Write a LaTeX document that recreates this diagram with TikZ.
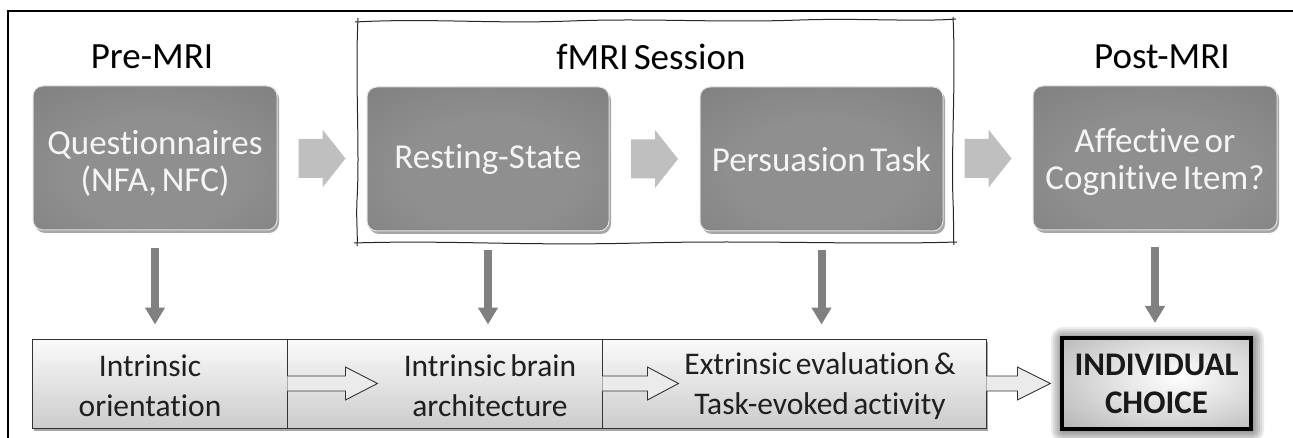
\documentclass[tikz,border=0pt]{standalone}
\usepackage{fontspec}
\setmainfont{Carlito}[Ligatures=NoCommon, WordSpace=0.6]
\usetikzlibrary{arrows.meta,calc,shadows}
\definecolor{dcen}{HTML}{8F8F8F}
\definecolor{dmid}{HTML}{7C7C7C}
\definecolor{dedge}{HTML}{5C5C5C}
\definecolor{icmid}{HTML}{D8D8D8}
\definecolor{icedge}{HTML}{8A8A8A}
\pgfdeclareradialshading{darkbox}{\pgfpoint{0bp}{-6bp}}{color(0bp)=(dcen); color(18bp)=(dcen); color(45bp)=(dmid); color(72bp)=(dedge); color(100bp)=(dedge)}
\pgfdeclareradialshading{icshade}{\pgfpoint{6bp}{4bp}}{color(0bp)=(white); color(22bp)=(icmid); color(60bp)=(icedge); color(100bp)=(icedge)}
\pgfdeclarelayer{bg}
\pgfsetlayers{bg,main}
\tikzset{
  topbox/.style={rounded corners=10pt, shading=darkbox, draw=black!12, line width=1pt, inner sep=0pt,
    drop shadow={shadow xshift=2pt, shadow yshift=-3pt, fill=black, opacity=0.35}},
  toptext/.style={text=white!96!black, font=\fontsize{35}{37}\selectfont, align=center, inner sep=0pt},
  lowbox/.style={draw=black!80, line width=0.9pt, top color=black!2, bottom color=black!20, inner sep=0pt,
    drop shadow={shadow xshift=2pt, shadow yshift=-3pt, fill=black, opacity=0.35}},
  lowtext/.style={text=black!88, font=\fontsize{31.5}{40}\selectfont, align=center, inner sep=0pt},
  titletext/.style={text=black, font=\fontsize{37}{40}\selectfont, inner sep=0pt},
  varrow/.style={draw=black!50, line width=8pt, -{Triangle[width=19pt,length=17pt]}},
  oarrow/.style={draw=black!80, line width=0.9pt, fill=black!8},
  blk/.pic={\fill[black!25] (-23.5,-19.5) -- (0.5,-19.5) -- (0.5,-29) -- (23.5,0) -- (0.5,29) -- (0.5,19.5) -- (-23.5,19.5) -- cycle;},
  icbox/.style={draw=black, line width=4pt, shading=icshade, outer sep=0pt, inner sep=0pt,
    text=black!90, font=\bfseries\fontsize{33}{38}\selectfont, align=center},
  sketch/.style={draw=black!85, line width=1pt}
}
\begin{document}
\begin{tikzpicture}[x=1pt,y=-1pt]
\useasboundingbox (0,0) rectangle (1293,438);
% outer frame
\draw[line width=1.4pt] (1295,11) -- (8,11) -- (8,440);
% fMRI session sketchy frame
\fill[white] (358,21) rectangle (954,243);
\draw[sketch] (355,22) .. controls (430,18) and (490,24) .. (570,21) .. controls (650,18) and (720,23) .. (800,20) .. controls (860,18) and (920,22) .. (956,19);
\draw[sketch] (358,18) .. controls (355,80) and (360,150) .. (357,200) .. controls (356,222) and (358,236) .. (357,246);
\draw[sketch] (953,17) .. controls (956,80) and (951,150) .. (953,200) .. controls (954,222) and (953,236) .. (954,245);
\draw[sketch] (354,243) .. controls (450,240) and (520,246) .. (640,243) .. controls (760,240) and (860,245) .. (957,242);
% titles
\node[titletext] (pre) at (152,57) {Pre-MRI};
\node[titletext] (fmri) at (651,57) {fMRI Session};
\node[titletext] (post) at (1162,57) {Post-MRI};
% top boxes
\node[topbox, minimum width=244pt, minimum height=144pt] (q) at (155,158) {};
\node[topbox, minimum width=242pt, minimum height=144pt] (rs) at (488,159) {};
\node[topbox, minimum width=243pt, minimum height=144pt] (pt) at (821.5,159) {};
\node[topbox, minimum width=244pt, minimum height=144pt] (aff) at (1155,158) {};
\node[toptext] (qt) at ($(q.center)+(0,5)$) {Questionnaires\\(NFA, NFC)};
\node[toptext] (rst) at ($(rs.center)+(0,0)$) {Resting-State};
\node[toptext] (ptt) at ($(pt.center)+(0,0)$) {Persuasion Task};
\node[toptext] (afft) at ($(aff.center)+(0,4)$) {Affective or\\Cognitive Item?};
% block arrows between top boxes
\pic at ($(q.east)!0.5!(rs.west)$) {blk};
\pic at ($(rs.east)!0.5!(pt.west)$) {blk};
\pic at ($(pt.east)!0.5!(aff.west)$) {blk};
% bottom boxes
\node[lowbox, minimum width=255pt, minimum height=89pt] (b1) at (159.5,383.5) {};
\node[lowbox, minimum width=315pt, minimum height=89pt] (b2) at (444.5,383.5) {};
\node[lowbox, minimum width=384pt, minimum height=89pt] (b3) at (794,383.5) {};
\node[icbox, minimum width=189pt, minimum height=91pt] (ic) at (1156.5,383.5) {INDIVIDUAL\\CHOICE};
\begin{pgfonlayer}{bg}
\foreach \d in {2,4,...,12}
  \fill[black, opacity=0.08, rounded corners=\d pt] ($(ic.north west)+(-\d+1,-\d+1)$) rectangle ($(ic.south east)+(\d+1,\d+1)$);
\end{pgfonlayer}
\node[lowtext] (t1) at (150,386) {Intrinsic\\orientation};
\node[lowtext] (t2) at (490,386) {Intrinsic brain\\architecture};
\node[lowtext] (t3) at (820,386) {Extrinsic evaluation \&\\Task-evoked activity};
% outline arrows between bottom boxes
\filldraw[oarrow] (b1.east) ++(0,-7.5) -- ++(58,0) -- ++(0,-9) -- ++(32,16.5) -- ++(-32,16.5) -- ++(0,-9) -- ++(-58,0);
\filldraw[oarrow] (b2.east) ++(0,-7.5) -- ++(45,0) -- ++(0,-9) -- ++(31,16.5) -- ++(-31,16.5) -- ++(0,-9) -- ++(-45,0);
\filldraw[oarrow] (b3.east) ++(0,-7.5) -- ++(31,0) -- ++(0,-9) -- ++(33,16.5) -- ++(-33,16.5) -- ++(0,-9) -- ++(-31,0);
% vertical arrows
\draw[varrow, shorten <=18pt, shorten >=14pt] (q.south) -- (q.south |- b1.north);
\draw[varrow, shorten <=19pt, shorten >=14pt] (rs.south) -- (rs.south |- b2.north);
\draw[varrow, shorten <=19pt, shorten >=14pt] (pt.south) -- (pt.south |- b3.north);
\draw[varrow, shorten <=17pt, shorten >=15pt] (aff.south) -- (aff.south |- ic.north);
\end{tikzpicture}
\end{document}
